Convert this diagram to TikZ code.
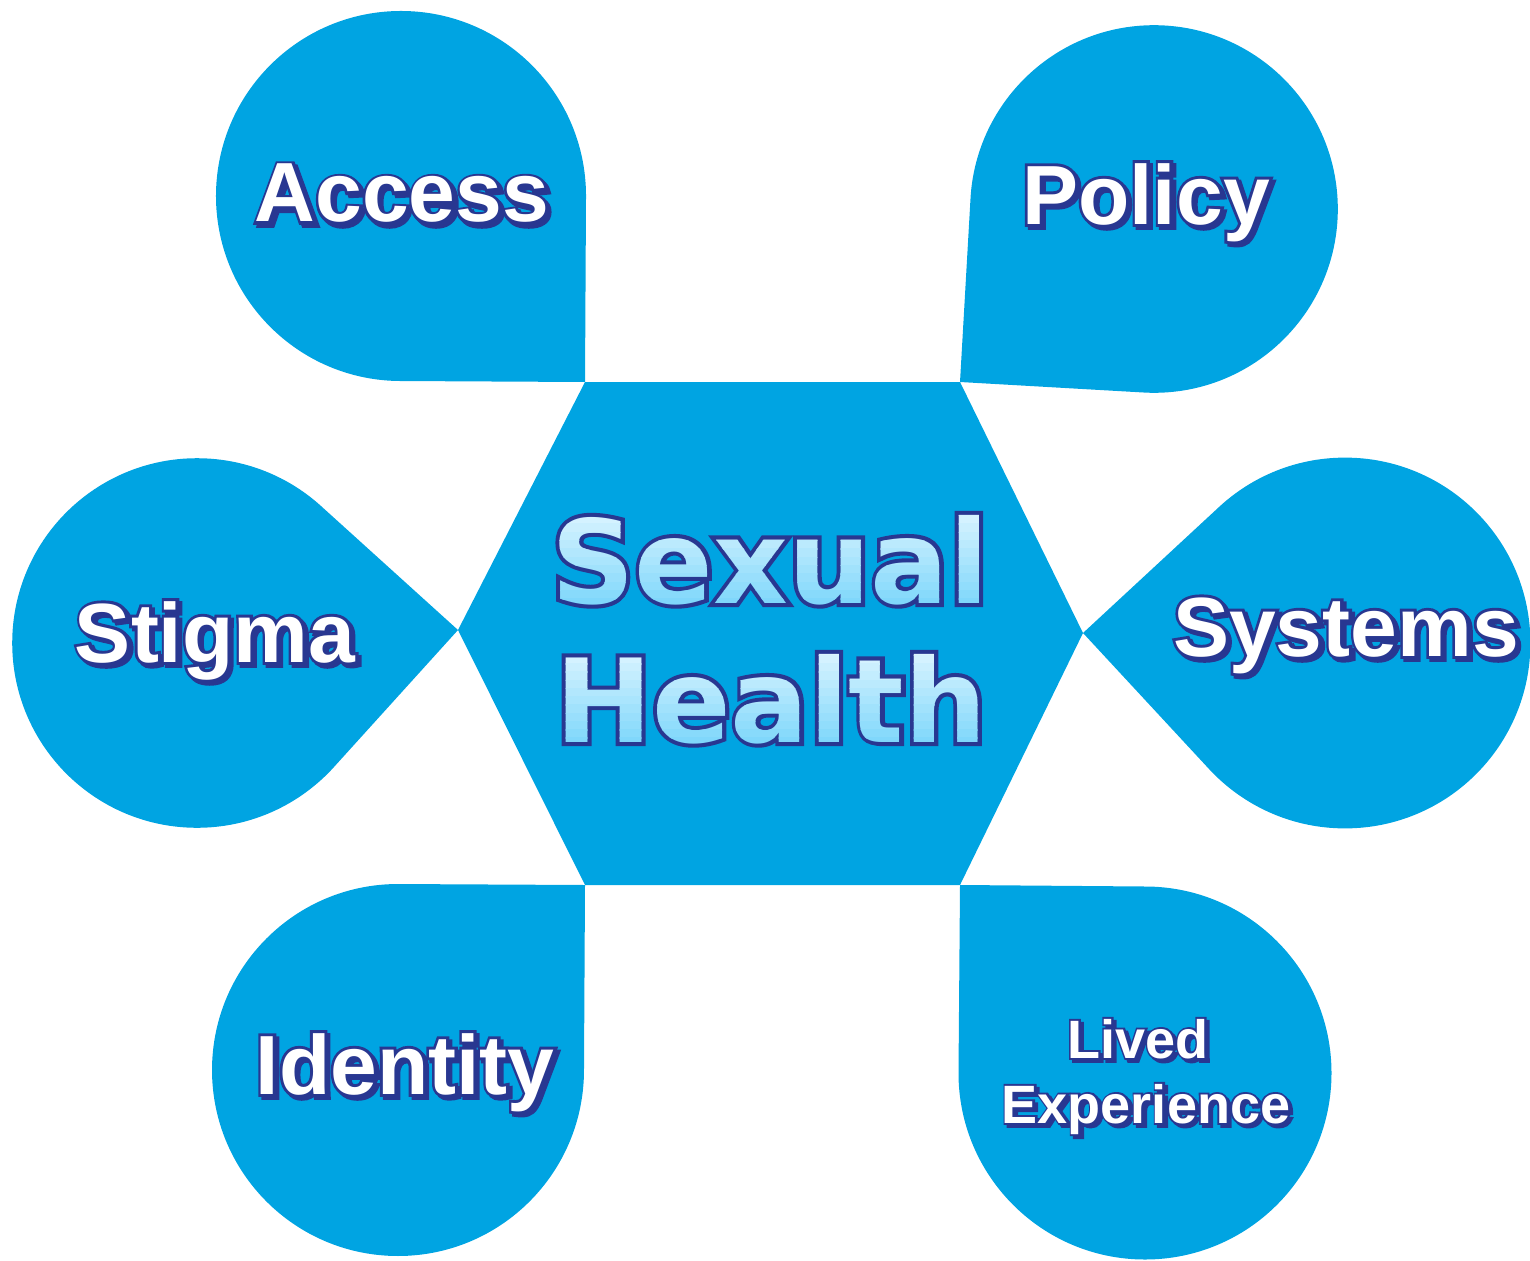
\documentclass[tikz,border=0pt]{standalone}
\usepackage{fontspec}
\usetikzlibrary{calc}
\newfontfamily\pf{Liberation Sans Bold}
\newfontfamily\pfo[FakeBold=7]{Liberation Sans Bold}
\newfontfamily\cf{DejaVu Sans Bold}
\newfontfamily\cfo[FakeBold=7]{DejaVu Sans Bold}
\definecolor{petal}{RGB}{0,164,226}
\definecolor{ink}{RGB}{40,55,145}
\definecolor{gradtop}{RGB}{220,245,255}
\definecolor{gradbot}{RGB}{128,215,251}
\tikzset{
  petalfill/.style={fill=petal},
  ptxt/.style={font=\pf\fontsize{84}{96}\selectfont, text=white, inner sep=0pt, anchor=base},
  ptxtout/.style={font=\pfo\fontsize{84}{96}\selectfont, text=ink, inner sep=0pt, anchor=base},
  lbig/.style={},
  lbigout/.style={},
  lsmall/.style={font=\pf\fontsize{54}{60}\selectfont},
  lsmallout/.style={font=\pfo\fontsize{54}{60}\selectfont},
  ctxt/.style={font=\cf\fontsize{116}{130}\selectfont, inner sep=0pt, anchor=base},
  ctxtout/.style={font=\cfo\fontsize{116}{130}\selectfont, text=ink, inner sep=0pt, anchor=base},
}
\newcommand\teardrop[3]{% name, centre, tip
  \coordinate (#1c) at (#2);
  \coordinate (#1p) at (#3);
  \fill[petalfill] let \p1=($(#1p)-(#1c)$), \n1={veclen(\x1,\y1)/sqrt(2)} in
    (#1c) circle (\n1)
    (#1p) -- ($(#1c)!\n1!45:(#1p)$) -- (#1c) -- ($(#1c)!\n1!-45:(#1p)$) -- cycle;
}
\newcommand\plabel[4][lbig]{% style, name, pos, text
  \node[ptxtout,#1out] (#2s) at ($(#3)+(3,3)$) {#4};
  \node[ptxtout,#1out] (#2o) at (#3) {#4};
  \node[ptxt,#1] (#2) at (#3) {#4};
}
% gradient word: name, x, baseline y, top y, text
\newcommand\gradword[5]{%
  \node[ctxtout] (#1o) at (#2,#3) {#5};
  \foreach \i in {0,...,11}{%
    \pgfmathsetmacro\ya{#4+(\i)*(#3-#4+4)/12}%
    \pgfmathsetmacro\yb{#4+(\i+1)*(#3-#4+4)/12+0.6}%
    \pgfmathsetmacro\mix{100-\i*100/11}%
    \begin{scope}
      \clip (#2-300,\ya) rectangle (#2+300,\yb);
      \node[ctxt,text=gradtop!\mix!gradbot] (#1\i) at (#2,#3) {#5};
    \end{scope}
  }%
  \begin{scope}
    \clip (#2-300,#3+4) rectangle (#2+300,#3+40);
    \node[ctxt,text=gradbot] (#1last) at (#2,#3) {#5};
  \end{scope}
}
\begin{document}
\begin{tikzpicture}[x=1pt,y=-1pt]
\useasboundingbox (0,0) rectangle (1530,1260);
% hexagon
\coordinate (h1) at (585,382);
\coordinate (h2) at (960,382);
\coordinate (h3) at (1083,633);
\coordinate (h4) at (960,885);
\coordinate (h5) at (585,885);
\coordinate (h6) at (458,630);
\fill[petalfill] (h1) -- (h2) -- (h3) -- (h4) -- (h5) -- (h6) -- cycle;
% petals
\teardrop{acc}{401,196}{h1}
\teardrop{pol}{1154,209}{h2}
\teardrop{sys}{1345,643}{h3}
\teardrop{liv}{1145,1073}{h4}
\teardrop{ide}{398,1070}{h5}
\teardrop{sti}{197,643}{h6}
% labels
\plabel{access}{402,222}{Access}
\plabel{policy}{1146,224}{Policy}
\plabel{stigma}{215,662}{Stigma}
\plabel{systems}{1346,656}{Systems}
\plabel{identity}{405,1094}{Identity}
\plabel[lsmall]{lived}{1138,1058}{Lived}
\plabel[lsmall]{experience}{1146,1123}{Experience}
% centre
\gradword{sexual}{770}{603}{507}{Sexual}
\gradword{health}{771}{742}{647}{Health}
\end{tikzpicture}
\end{document}
